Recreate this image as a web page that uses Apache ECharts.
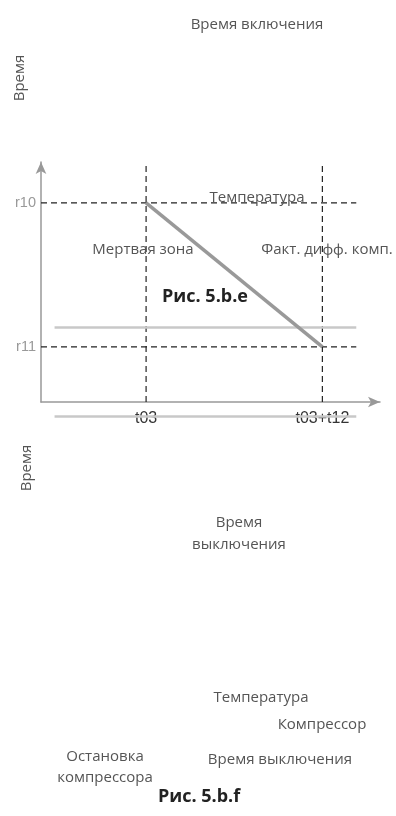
<!DOCTYPE html>
<html lang="ru">
<head>
  <meta charset="UTF-8">
  <title>Рис. 5.b.e</title>
  <script src="https://cdn.jsdelivr.net/npm/echarts@6/dist/echarts.min.js"></script>
  <style>
    html, body { margin: 0; padding: 0; background: #fff; }
    #chart { width: 396px; height: 816px; }
  </style>
</head>
<body>
  <div id="chart"></div>
  <script>
    // значения осей (условные единицы)
    var yTicks = [23, 83];              // r11, r10
    var yTickLabels = ['r11', 'r10'];
    var xTicks = [31, 83];              // t03, t03+t12
    var xTickLabels = ['t03', 't03+t12'];

    // линии
    var r10Line = [[0, 83], [93, 83]];
    var r11Line = [[0, 23], [93, 23]];
    var t03Line = [[31, 0], [31, 99.5]];
    var t12Line = [[83, 0], [83, 99.5]];
    var slope = [[31, 83], [83, 23]];
    var grayUpper = [[4, 31], [93, 31]];
    var grayLower = [[4, -6], [93, -6]];

    var chart = echarts.init(document.getElementById('chart'));

    var font = '"Open Sans", sans-serif';
    var tickFont = '"Liberation Sans", Arial, sans-serif';
    var txtColor = '#555';

    function dashed(data) {
      return {
        type: 'line', data: data, symbol: 'none', silent: true,
        lineStyle: { color: '#222', width: 1.2, type: [6, 4] }
      };
    }

    function label(text, x, y, opts) {
      opts = opts || {};
      return {
        type: 'text', x: x, y: y, rotation: opts.rotation || 0, z: 10,
        style: {
          text: text, fill: opts.color || txtColor,
          font: (opts.bold ? 'bold ' : '') + (opts.size || 15) + 'px ' + font,
          textAlign: 'center', textVerticalAlign: 'middle'
        }
      };
    }

    var option = {
      animation: false,
      grid: { left: 41, top: 162, right: 16, bottom: 414 },
      xAxis: {
        type: 'value', min: 0, max: 100,
        splitLine: { show: false },
        axisLine: {
          onZero: false,
          lineStyle: { color: '#999', width: 1.5 },
          symbol: ['none', 'arrow'], symbolSize: [8, 12]
        },
        axisTick: { show: false },
        axisLabel: {
          customValues: xTicks, color: '#333', fontSize: 16, fontFamily: tickFont, margin: 9,
          formatter: function (v) { return xTickLabels[xTicks.indexOf(v)]; }
        }
      },
      yAxis: {
        type: 'value', min: 0, max: 100,
        splitLine: { show: false },
        axisLine: {
          show: true,
          lineStyle: { color: '#999', width: 1.5 },
          symbol: ['none', 'arrow'], symbolSize: [8, 12]
        },
        axisTick: { show: false },
        axisLabel: {
          customValues: yTicks, color: '#999', fontSize: 14.5, fontFamily: tickFont, margin: 5,
          formatter: function (v) { return yTickLabels[yTicks.indexOf(v)]; }
        }
      },
      series: [
        dashed(r10Line),
        dashed(r11Line),
        dashed(t03Line),
        dashed(t12Line),
        {
          type: 'line', data: grayUpper, symbol: 'none', silent: true,
          lineStyle: { color: '#c8c8c8', width: 2.5 }
        },
        {
          type: 'line', data: grayLower, symbol: 'none', silent: true, clip: false, z: 5,
          lineStyle: { color: '#c8c8c8', width: 2.5 }
        },
        {
          type: 'line', data: slope, symbol: 'none', silent: true,
          lineStyle: { color: '#999', width: 3.5 }
        }
      ],
      graphic: [
        label('Время включения', 257, 25),
        label('Время', 20, 78, { rotation: Math.PI / 2 }),
        label('Температура', 257, 198),
        label('Мертвая зона', 143, 250),
        label('Факт. дифф. комп.', 327, 250),
        label('Рис. 5.b.e', 205, 297, { bold: true, size: 18, color: '#222' }),
        label('Время', 27, 468, { rotation: Math.PI / 2 }),
        label('Время', 239, 523),
        label('выключения', 239, 545),
        label('Температура', 261, 698),
        label('Компрессор', 322, 725),
        label('Остановка', 105, 757),
        label('компрессора', 105, 778),
        label('Время выключения', 280, 760),
        label('Рис. 5.b.f', 199, 797, { bold: true, size: 18, color: '#222' })
      ]
    };

    chart.setOption(option);
    window.onresize = function () { chart.resize(); };
  </script>
</body>
</html>
